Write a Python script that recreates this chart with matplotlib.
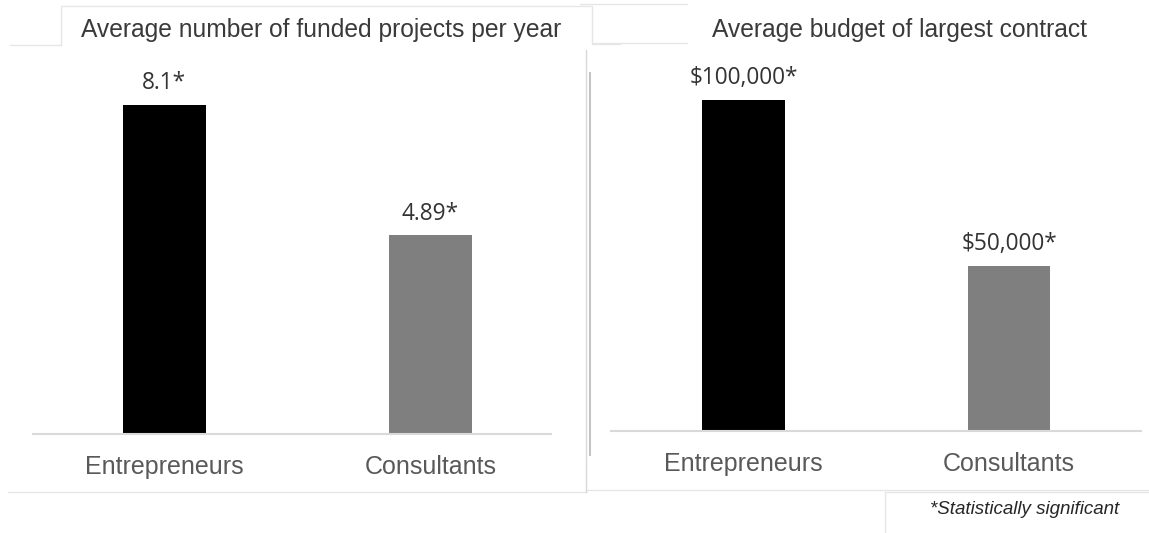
import matplotlib.pyplot as plt
from matplotlib.lines import Line2D

groups = ["Entrepreneurs", "Consultants"]
projects_per_year = [8.1, 4.89]
projects_labels = ["8.1*", "4.89*"]
largest_budget = [100000, 50000]
budget_labels = ["$100,000*", "$50,000*"]
bar_colors = ["#000000", "#7f7f7f"]

W, H = 1149, 533


def px_rect(x0, y0, x1, y1):
    # pixel box (top-left origin) -> figure fraction rect
    return [x0 / W, 1 - y1 / H, (x1 - x0) / W, (y1 - y0) / H]


def px_line(fig, xs, ys, color="#e6e6e6", lw=1.0):
    fig.add_artist(Line2D([x / W for x in xs], [1 - y / H for y in ys],
                          transform=fig.transFigure, color=color, lw=lw))


def bar_panel(ax, values, labels, xlim, ymax, title, title_x):
    ax.bar(range(len(values)), values, width=0.312, color=bar_colors)
    ax.set_xlim(*xlim)
    ax.set_ylim(0, ymax)
    for i, (v, lab) in enumerate(zip(values, labels)):
        ax.annotate(lab, (i, v), xytext=(0, 7), textcoords="offset points",
                    ha="center", va="bottom", fontsize=16.3, color="#333333",
                    family="Open Sans")
    for s in ["top", "right", "left"]:
        ax.spines[s].set_visible(False)
    ax.spines["bottom"].set_color("#d9d9d9")
    ax.spines["bottom"].set_linewidth(1.5)
    ax.set_yticks([])
    ax.set_xticks(range(len(groups)))
    ax.set_xticklabels(groups, fontsize=18, color="#595959",
                       family="Liberation Sans")
    ax.tick_params(axis="x", length=0, pad=15)
    fig.text(title_x / W, 1 - 30 / H, title, ha="center", va="center",
             fontsize=17.7, color="#3a3a3a", family="Liberation Sans")


fig = plt.figure(figsize=(W / 100, H / 100), dpi=100)

ax1 = fig.add_axes(px_rect(33, 60, 551, 434))
bar_panel(ax1, projects_per_year, projects_labels, (-0.494, 1.453),
          374 / 40.62, "Average number of funded projects per year", 321)

ax2 = fig.add_axes(px_rect(611, 60, 1141, 431))
bar_panel(ax2, largest_budget, budget_labels, (-0.499, 1.497),
          371 / 331 * 100000, "Average budget of largest contract", 900)

# faint panel frames
px_line(fig, [10, 61, 61, 592, 592, 620], [45, 45, 6, 6, 44, 44])
px_line(fig, [580, 687], [4, 4])
px_line(fig, [592, 687], [43, 43])
px_line(fig, [8, 586], [492, 492])
px_line(fig, [586, 1149], [490, 490])
px_line(fig, [885, 885, 1149], [533, 492, 492])
px_line(fig, [586, 586], [50, 492], color="#d8d8d8", lw=1.0)
px_line(fig, [590, 590], [73, 455], color="#c4c4c4", lw=1.5)

fig.text(930 / W, 1 - 510 / H, "*Statistically significant", ha="left",
         va="center", fontsize=13.5, style="italic", color="#262626",
         family="Liberation Sans")

fig.savefig("out.png", dpi=100)
